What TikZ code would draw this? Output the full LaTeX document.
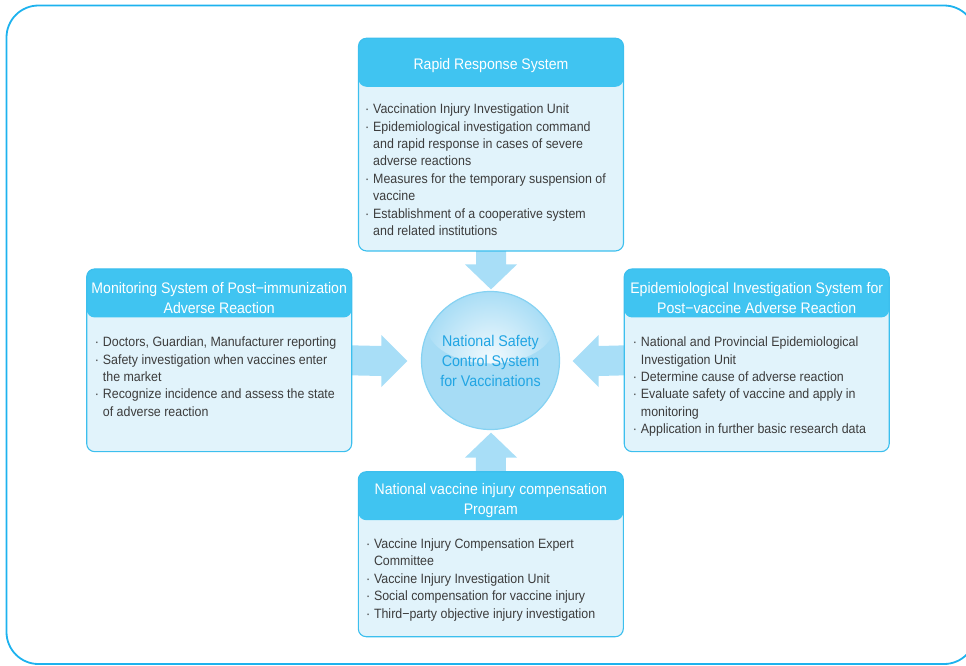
\documentclass[tikz,border=0pt]{standalone}
\usepackage{fontspec}
\setmainfont{Liberation Sans}[FakeStretch=0.92]
\usetikzlibrary{calc,backgrounds}

\definecolor{frameblue}{HTML}{1DB2EE}
\definecolor{hdrblue}{HTML}{40C4F1}
\definecolor{panelbg}{HTML}{E1F3FB}
\definecolor{paneledge}{HTML}{3CBFEE}
\definecolor{arrowblue}{HTML}{A8DEF7}
\definecolor{corefill}{HTML}{A6DCF5}
\definecolor{coreedge}{HTML}{86D2F2}
\definecolor{coretext}{HTML}{21A5E3}
\definecolor{bodygrey}{HTML}{3C3C3C}

\newcommand\bodysize{\fontsize{13.5}{17.4}\selectfont}
\newcommand\hdrsize{\fontsize{15.3}{20}\selectfont}
\newcommand\coresize{\fontsize{15.5}{20}\selectfont}
\newcommand\itemdot{\makebox[8pt][l]{·}}
\newcommand\contline{\hspace*{8pt}}
\newcommand\firststrut[1]{\rule{0pt}{#1}}

\begin{document}
\begin{tikzpicture}[x=1pt,y=-1pt,
  panel/.style={draw=paneledge, line width=1.1pt, fill=panelbg,
    rounded corners=8pt, inner sep=0pt, outer sep=0pt, minimum width=265pt,
    path picture={\fill[hdrblue] (path picture bounding box.north west)
      rectangle ([yshift=-48.5pt]path picture bounding box.north east);}},
  hdrtext/.style={text=white, font=\hdrsize, align=center, inner sep=0pt, anchor=north},
  bodytext/.style={text=bodygrey, font=\bodysize, align=left, inner sep=0pt, anchor=north west},
  core/.style={circle, minimum size=138pt, inner sep=0pt, draw=coreedge, line width=1.2pt,
    fill=corefill, text=coretext, font=\coresize, align=center,
    path picture={\shade[inner color=white!85!corefill, outer color=corefill]
      ([yshift=-34pt]path picture bounding box.north) ellipse [x radius=64pt, y radius=38pt];}},
  blockarrow/.style={fill=arrowblue},
  frameline/.style={draw=frameblue, line width=1.8pt, rounded corners=32pt}
]
\useasboundingbox (0,0) rectangle (966,665);
\clip (0,0) rectangle (966,665);

% outer frame
\draw[frameline] (6.5,5.5) rectangle (976,664);

% four panels
\node[panel, minimum height=212.7pt] (rapid)   at (491,144.6) {};
\node[panel, minimum height=182.7pt] (monitor) at (219.2,360.3) {};
\node[panel, minimum height=182.7pt] (epi)     at (756.7,360.3) {};
\node[panel, minimum height=165pt]   (comp)    at (490.8,554.2) {};

% panel titles
\node[hdrtext] (rapidH) at ($(rapid.north)+(0,17.7)$) {\firststrut{13pt}Rapid Response System};
\node[hdrtext] (monitorH) at ($(monitor.north)+(0,11.3)$)
  {\firststrut{13pt}Monitoring System of Post−immunization\\Adverse Reaction};
\node[hdrtext] (epiH) at ($(epi.north)+(0,11.3)$)
  {\firststrut{13pt}Epidemiological Investigation System for\\Post−vaccine Adverse Reaction};
\node[hdrtext] (compH) at ($(comp.north)+(0,9.6)$)
  {\firststrut{13pt}National vaccine injury compensation\\Program};

% panel contents
\node[bodytext] (rapidB) at ($(rapid.north west)+(6.5,64.2)$) {%
  \firststrut{11pt}\itemdot Vaccination Injury Investigation Unit\\
  \itemdot Epidemiological investigation command\\
  \contline and rapid response in cases of severe\\
  \contline adverse reactions\\
  \itemdot Measures for the temporary suspension of\\
  \contline vaccine\\
  \itemdot Establishment of a cooperative system\\
  \contline and related institutions};
\node[bodytext] (monitorB) at ($(monitor.north west)+(8,66.5)$) {%
  \firststrut{11pt}\itemdot Doctors, Guardian, Manufacturer reporting\\
  \itemdot Safety investigation when vaccines enter\\
  \contline the market\\
  \itemdot Recognize incidence and assess the state\\
  \contline of adverse reaction};
\node[bodytext] (epiB) at ($(epi.north west)+(8.5,66.5)$) {%
  \firststrut{11pt}\itemdot National and Provincial Epidemiological\\
  \contline Investigation Unit\\
  \itemdot Determine cause of adverse reaction\\
  \itemdot Evaluate safety of vaccine and apply in\\
  \contline monitoring\\
  \itemdot Application in further basic research data};
\node[bodytext] (compB) at ($(comp.north west)+(7.5,65.6)$) {%
  \firststrut{11pt}\itemdot Vaccine Injury Compensation Expert\\
  \contline Committee\\
  \itemdot Vaccine Injury Investigation Unit\\
  \itemdot Social compensation for vaccine injury\\
  \itemdot Third−party objective injury investigation};

% central circle
\node[core] (core) at (490.5,360.5) {National Safety\\Control System\\for Vaccinations};

% arrow tips near the circle
\coordinate (tipN) at ($(core.north)+(0.5,-1.5)$);
\coordinate (tipS) at ($(core.south)+(0.5,2.5)$);
\coordinate (tipW) at ($(core.west)+(-13.5,0.5)$);
\coordinate (tipE) at ($(core.east)+(12.5,0.5)$);

% block arrows from each panel towards the circle
\begin{pgfonlayer}{background}
\fill[blockarrow] ($(rapid.south)+(-15,-2)$) -- ($(tipN)+(-15,-25)$) -- ($(tipN)+(-26,-25)$)
  -- (tipN) -- ($(tipN)+(26,-25)$) -- ($(tipN)+(15,-25)$) -- ($(rapid.south)+(15,-2)$) -- cycle;
\fill[blockarrow] ($(comp.north)+(-15,2)$) -- ($(tipS)+(-15,25)$) -- ($(tipS)+(-26,25)$)
  -- (tipS) -- ($(tipS)+(26,25)$) -- ($(tipS)+(15,25)$) -- ($(comp.north)+(15,2)$) -- cycle;
\fill[blockarrow] ($(monitor.east)+(-2,-15)$) -- ($(tipW)+(-26,-15)$) -- ($(tipW)+(-26,-26)$)
  -- (tipW) -- ($(tipW)+(-26,26)$) -- ($(tipW)+(-26,15)$) -- ($(monitor.east)+(-2,15)$) -- cycle;
\fill[blockarrow] ($(epi.west)+(2,-15)$) -- ($(tipE)+(26,-15)$) -- ($(tipE)+(26,-26)$)
  -- (tipE) -- ($(tipE)+(26,26)$) -- ($(tipE)+(26,15)$) -- ($(epi.west)+(2,15)$) -- cycle;
\end{pgfonlayer}
\end{tikzpicture}
\end{document}
